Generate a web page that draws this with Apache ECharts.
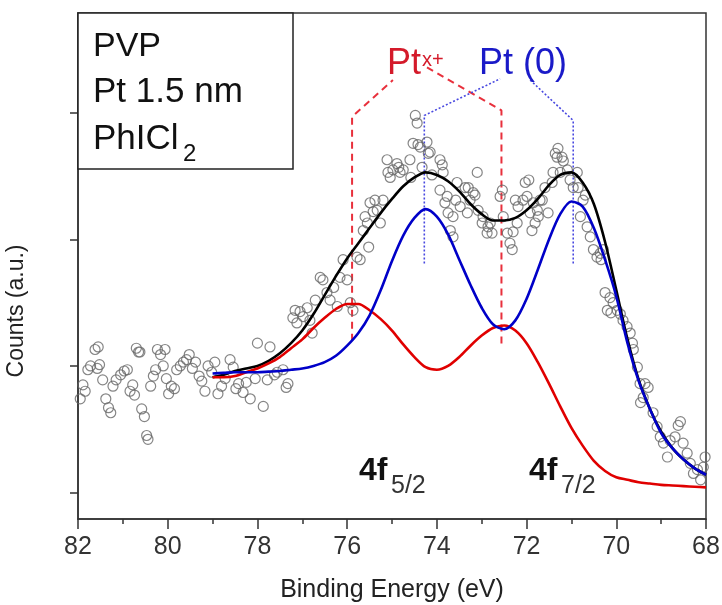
<!DOCTYPE html>
<html>
<head>
<meta charset="utf-8">
<script src="https://cdn.jsdelivr.net/npm/echarts@6.0.0/dist/echarts.min.js"></script>
<style>
html,body{margin:0;padding:0;background:#fff;}
#chart{width:722px;height:605px;}
</style>
</head>
<body>
<div id="chart"></div>
<script>
// ---- Data (binding energy in eV, counts in arbitrary units) ----
var xTicks = [82, 80, 78, 76, 74, 72, 70, 68];
var yTicks = [1, 2, 3, 4];

var measured = [
[81.95,1.74],[81.89,1.85],[81.84,1.80],[81.78,1.97],[81.72,2.00],[81.62,2.13],[81.57,1.98],[81.55,2.15],[81.52,2.01],[81.45,1.89],
[81.38,1.74],[81.32,1.67],[81.27,1.63],[81.22,1.84],[81.15,1.89],[81.05,1.93],[80.97,1.96],[80.90,1.97],[80.84,1.80],[80.78,1.85],
[80.74,1.77],[80.70,2.14],[80.65,2.11],[80.62,2.11],[80.58,1.66],[80.52,1.60],[80.47,1.45],[80.44,1.42],[80.38,1.84],[80.32,1.92],
[80.27,1.97],[80.23,2.13],[80.16,2.09],[80.10,2.00],[80.06,2.13],[80.03,1.90],[79.98,1.78],[79.92,1.84],[79.85,1.82],[79.80,1.97],
[79.72,2.00],[79.65,2.03],[79.58,2.05],[79.52,2.09],[79.45,1.98],[79.38,2.03],[79.30,1.92],[79.24,1.88],[79.17,1.80],[79.10,2.00],
[79.02,1.95],[78.95,2.03],[78.88,1.78],[78.80,1.84],[78.72,1.90],[78.61,2.05],[78.54,1.99],[78.48,1.82],[78.42,1.86],[78.32,1.79],
[78.25,1.87],[78.16,1.74],[78.05,1.90],[78.00,2.18],[77.87,1.68],[77.78,1.89],[77.72,2.15],[77.62,1.93],[77.56,1.95],[77.43,1.97],
[77.36,1.83],[77.32,1.86],[77.21,2.38],[77.16,2.44],[77.12,2.34],[77.05,2.43],[76.98,2.39],[76.89,2.46],[76.83,2.36],[76.78,2.26],
[76.71,2.52],[76.60,2.70],[76.54,2.68],[76.45,2.58],[76.38,2.52],[76.30,2.62],[76.22,2.47],[76.16,2.70],[76.09,2.84],[76.00,2.68],
[75.93,2.50],[75.87,2.44],[75.78,2.86],[75.71,2.84],[75.64,3.07],[75.60,3.18],[75.55,3.13],[75.52,2.94],[75.49,3.29],[75.42,3.22],
[75.38,3.31],[75.33,3.23],[75.26,3.13],[75.20,3.31],[75.11,3.63],[75.09,3.53],[75.04,3.49],[74.98,3.55],[74.89,3.60],[74.85,3.57],
[74.82,3.53],[74.75,3.55],[74.60,3.63],[74.58,3.49],[74.53,3.76],[74.48,3.98],[74.44,3.92],[74.42,3.75],[74.37,3.73],[74.33,3.57],
[74.22,3.77],[74.19,3.68],[74.15,3.69],[74.11,3.51],[73.93,3.39],[73.93,3.63],[73.88,3.59],[73.86,3.53],[73.82,3.29],[73.77,3.34],
[73.75,3.21],[73.70,3.07],[73.64,3.18],[73.64,3.02],[73.58,3.31],[73.55,3.45],[73.48,3.26],[73.37,3.41],[73.32,3.21],[73.30,3.41],
[73.26,3.31],[73.19,3.37],[73.15,3.35],[73.10,3.53],[73.08,3.23],[72.99,3.13],[72.97,3.18],[72.88,3.05],[72.86,3.10],[72.81,3.13],
[72.77,3.05],[72.59,3.34],[72.54,3.39],[72.52,3.18],[72.43,3.05],[72.37,2.97],[72.32,2.92],[72.30,3.06],[72.25,3.31],[72.21,3.13],
[72.19,3.26],[72.08,3.31],[72.03,3.45],[71.99,3.34],[71.95,3.47],[71.92,3.21],[71.88,3.07],[71.85,3.29],[71.81,3.13],[71.76,3.23],
[71.74,3.18],[71.70,3.31],[71.65,3.31],[71.59,3.41],[71.52,3.21],[71.43,3.45],[71.41,3.53],[71.36,3.68],[71.32,3.65],[71.30,3.72],
[71.25,3.53],[71.21,3.65],[71.18,3.62],[71.09,3.55],[71.03,3.47],[70.96,3.41],[70.87,3.53],[70.85,3.41],[70.80,3.18],[70.74,3.31],
[70.69,3.35],[70.65,3.10],[70.58,3.02],[70.51,2.92],[70.43,2.86],[70.36,2.89],[70.34,2.84],[70.29,2.92],[70.25,2.58],[70.20,2.44],
[70.14,2.54],[70.12,2.42],[70.07,2.50],[69.98,2.44],[69.91,2.41],[69.85,2.36],[69.76,2.31],[69.69,2.26],[69.64,2.18],[69.62,2.13],
[69.53,1.99],[69.47,1.86],[69.46,1.71],[69.40,1.75],[69.36,1.86],[69.29,1.83],[69.18,1.63],[69.09,1.52],[69.02,1.44],[68.95,1.39],
[68.86,1.28],[68.80,1.41],[68.69,1.44],[68.62,1.53],[68.57,1.56],[68.51,1.39],[68.42,1.31],[68.35,1.23],[68.28,1.15],[68.19,1.18],
[68.12,1.10],[68.06,1.20],[68.02,1.28]
];

var fitEnergy  = [79,78.75,78.5,78.25,78,77.75,77.5,77.25,77,76.75,76.5,76.25,76,75.75,75.5,75.25,75,74.75,74.5,74.25,74,73.75,73.5,73.25,73,72.75,72.5,72.25,72,71.75,71.5,71.25,71,70.75,70.5,70.25,70,69.75,69.5,69.25,69,68.75,68.5,68.25,68];
var ptOxidized = [1.91,1.91,1.92,1.95,1.98,2.02,2.07,2.14,2.21,2.30,2.38,2.45,2.49,2.49,2.44,2.37,2.28,2.17,2.07,1.99,1.97,2.00,2.07,2.16,2.24,2.30,2.32,2.28,2.18,2.03,1.86,1.68,1.51,1.37,1.25,1.17,1.12,1.10,1.08,1.07,1.06,1.055,1.05,1.045,1.04];
var ptMetal    = [1.94,1.945,1.95,1.95,1.95,1.955,1.96,1.97,1.98,2.00,2.03,2.08,2.16,2.26,2.40,2.60,2.83,3.03,3.17,3.24,3.18,3.04,2.84,2.64,2.46,2.33,2.29,2.36,2.53,2.76,3.00,3.20,3.30,3.26,3.09,2.84,2.55,2.18,1.88,1.66,1.47,1.35,1.26,1.19,1.14];
var envelope   = [1.91,1.93,1.96,1.98,2.00,2.04,2.10,2.18,2.28,2.41,2.56,2.71,2.85,2.97,3.09,3.21,3.32,3.42,3.49,3.53,3.51,3.46,3.38,3.28,3.20,3.15,3.15,3.17,3.23,3.32,3.43,3.51,3.53,3.45,3.28,2.98,2.60,2.21,1.89,1.66,1.48,1.35,1.26,1.19,1.14];

// annotation brackets (data coordinates)
var ptxLeft  = [[75.89,2.20],[75.89,3.97],[74.98,4.26]];
var ptxRight = [[74.22,4.36],[72.56,4.02],[72.56,2.15]];
var pt0Left  = [[74.28,2.81],[74.28,3.98],[72.59,4.27]];
var pt0Right = [[71.92,4.26],[70.96,3.94],[70.96,2.81]];

function pairs(xs, ys){ return xs.map(function(x,i){ return [x, ys[i]]; }); }

var FONT = 'Liberation Sans, Arial, sans-serif';
var chart = echarts.init(document.getElementById('chart'), null, {renderer:'canvas'});

function bracket(data, color, type, width){
  return {type:'line', data:data, showSymbol:false, silent:true, z:1,
    lineStyle:{color:color, type:type, width:width}};
}

var option = {
  animation:false,
  backgroundColor:'#fff',
  grid:{left:78, top:13, right:16, bottom:86, outerBoundsMode:'none', containLabel:false,
    show:true, borderColor:'#333', borderWidth:1.5, backgroundColor:'transparent'},
  xAxis:{
    type:'value', min:68, max:82, interval:2, inverse:true,
    name:'Binding Energy (eV)', nameLocation:'middle', nameGap:59,
    nameTextStyle:{fontFamily:FONT, fontSize:25, color:'#222'},
    axisLine:{show:true, lineStyle:{color:'#333', width:1.5}},
    axisTick:{show:true, inside:false, length:10, lineStyle:{color:'#333', width:1.5}},
    minorTick:{show:true, splitNumber:2, length:5, lineStyle:{color:'#333', width:1.5}},
    axisLabel:{fontFamily:FONT, fontSize:25, color:'#333', margin:16,
      customValues: xTicks},
    splitLine:{show:false}
  },
  yAxis:{
    type:'value', min:0.79, max:4.79,
    axisLine:{show:true, lineStyle:{color:'#333', width:1.5}},
    axisTick:{show:true, inside:false, length:8, lineStyle:{color:'#333', width:1.5}, customValues: yTicks},
    axisLabel:{show:false},
    splitLine:{show:false}
  },
  series:[
    {type:'scatter', data:measured, symbol:'circle', symbolSize:10, z:2,
      itemStyle:{color:'rgba(255,255,255,0)', borderColor:'#666', borderWidth:1.2}},
    bracket(ptxLeft,  '#e8303c', [7,5], 2),
    bracket(ptxRight, '#e8303c', [7,5], 2),
    bracket(pt0Left,  '#4848e0', [2,2], 1.6),
    bracket(pt0Right, '#4848e0', [2,2], 1.6),
    {type:'line', data:pairs(fitEnergy, envelope), smooth:0.3, showSymbol:false, z:3,
      lineStyle:{color:'#000', width:2.6}},
    {type:'line', data:pairs(fitEnergy, ptOxidized), smooth:0.3, showSymbol:false, z:4,
      lineStyle:{color:'#e00000', width:2.6}},
    {type:'line', data:pairs(fitEnergy, ptMetal), smooth:0.3, showSymbol:false, z:5,
      lineStyle:{color:'#0000c8', width:2.6}}
  ],
  graphic:[
    {type:'rect', shape:{x:78, y:13, width:215, height:156}, z:10,
      style:{fill:'#fff', stroke:'#222', lineWidth:1.5}},
    {type:'text', left:93, top:30, z:11, style:{text:'PVP', font:'34px '+FONT, fill:'#111'}},
    {type:'text', left:93, top:75, z:11, style:{text:'Pt 1.5 nm', font:'35px '+FONT, fill:'#111'}},
    {type:'text', left:93, top:122, z:11, style:{text:'PhICl', font:'35px '+FONT, fill:'#111'}},
    {type:'text', left:183, top:142, z:11, style:{text:'2', font:'24px '+FONT, fill:'#111'}},
    {type:'text', left:387, top:46, z:11, style:{text:'Pt', font:'36px '+FONT, fill:'#d41a2a'}},
    {type:'text', left:422, top:50, z:11, style:{text:'x+', font:'20px '+FONT, fill:'#d41a2a'}},
    {type:'text', left:479, top:46, z:11, style:{text:'Pt (0)', font:'36px '+FONT, fill:'#1a1ac8'}},
    {type:'text', left:359, top:455, z:11, style:{text:'4f', font:'bold 32px '+FONT, fill:'#111'}},
    {type:'text', left:391, top:474, z:11, style:{text:'5/2', font:'25px '+FONT, fill:'#333'}},
    {type:'text', left:529, top:455, z:11, style:{text:'4f', font:'bold 32px '+FONT, fill:'#111'}},
    {type:'text', left:561, top:474, z:11, style:{text:'7/2', font:'25px '+FONT, fill:'#333'}},
    {type:'text', x:17, y:311, rotation:Math.PI/2, z:11,
      style:{text:'Counts (a.u.)', font:'23px '+FONT, fill:'#222', align:'center', verticalAlign:'middle'}}
  ]
};
chart.setOption(option);
</script>
</body>
</html>
